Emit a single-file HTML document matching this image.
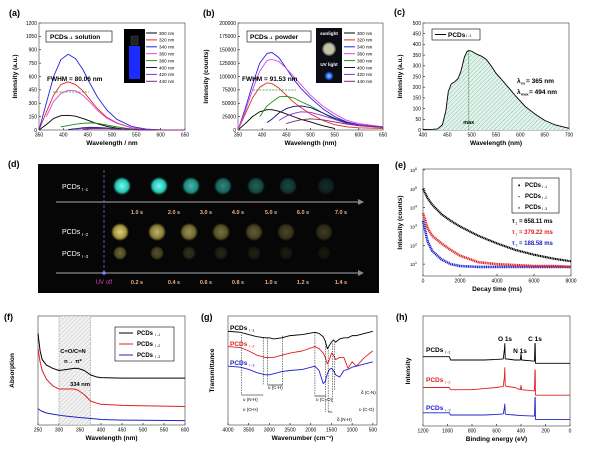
<!DOCTYPE html>
<html><head><meta charset="utf-8"><style>
html,body{margin:0;padding:0;background:#fff}
svg{display:block;font-family:"Liberation Sans",sans-serif}
</style></head><body>
<svg id="fig" width="600" height="450" viewBox="0 0 600 450" xmlns="http://www.w3.org/2000/svg">
<defs>
<pattern id="hatchG" width="3" height="3" patternUnits="userSpaceOnUse" patternTransform="rotate(45)"><rect width="3" height="3" fill="#e4f3ee"/><line x1="0" y1="0" x2="0" y2="3" stroke="#6db59a" stroke-width="0.8"/></pattern>
<pattern id="hatchK" width="3" height="3" patternUnits="userSpaceOnUse" patternTransform="rotate(45)"><rect width="3" height="3" fill="#f2f2f2"/><line x1="0" y1="0" x2="0" y2="3" stroke="#aaa" stroke-width="0.6"/></pattern>
<radialGradient id="gCy"><stop offset="0" stop-color="#7ff5ea"/><stop offset="0.7" stop-color="#20c8b8"/><stop offset="1" stop-color="#20c8b8" stop-opacity="0"/></radialGradient>
<radialGradient id="gYe"><stop offset="0" stop-color="#e8e08a"/><stop offset="0.7" stop-color="#a89a40"/><stop offset="1" stop-color="#a89a40" stop-opacity="0"/></radialGradient>
<radialGradient id="gBl"><stop offset="0" stop-color="#9fd0ff"/><stop offset="0.6" stop-color="#2060f0"/><stop offset="1" stop-color="#102050" stop-opacity="0"/></radialGradient>
</defs>
</svg>
<script>
// ---- data ----
const aWl=[350,365,380,395,410,425,440,455,470,490,510,540,570,600,650];
const a300=[0,60,130,160,165,155,130,100,70,40,20,5,0,0,0];
const a320=[0,200,390,510,540,510,440,340,240,140,80,25,5,0,0];
const a340=[0,300,600,790,850,800,680,520,370,220,120,40,10,0,0];
const a360=[null,150,320,410,445,440,390,310,220,130,75,25,5,0,0];
const a380=[null,null,null,35,50,65,75,80,75,55,35,12,3,0,0];
const a400=[null,null,null,null,5,15,25,30,28,22,15,6,2,0,0];
const a420=[null,null,null,null,null,10,18,22,22,18,12,5,2,0,0];
const a440=[null,null,null,null,null,null,8,14,16,15,10,5,2,0,0];
const bWl=[350,365,380,395,410,420,435,450,465,480,500,525,550,575,600,650];
const b300=[0,12000,25000,34000,38000,38000,35000,30000,25000,20000,15000,8000,3000,null,null,null];
const b320=[0,30000,60000,80000,88000,87000,78000,65000,52000,42000,30000,18000,10000,6000,4000,3000];
const b340=[0,40000,85000,125000,143000,145000,135000,115000,95000,78000,60000,40000,25000,15000,10000,5000];
const b360=[0,35000,75000,110000,130000,132000,128000,115000,100000,85000,65000,45000,30000,18000,12000,6000];
const b380=[null,null,null,25000,45000,52000,62000,63000,60000,53000,45000,32000,20000,12000,8000,5000];
const b400=[null,null,null,null,14000,20000,32000,40000,44000,45000,42000,32000,22000,14000,9000,5000];
const b420=[null,null,null,null,null,null,18000,26000,31000,34000,33000,27000,20000,13000,9000,6000];
const b440=[null,null,null,null,null,null,null,12000,16000,19000,21000,19000,15000,11000,8000,5000];
const exLabels=["300 nm","320 nm","340 nm","360 nm","380 nm","400 nm","420 nm","440 nm"];
const exColors=["#000","#e02828","#2323e0","#e040e0","#1e8c1e","#10106a","#8a2be2","#7a2a7a"];
const cWl=[400,420,430,440,447,452,458,465,472,478,485,490,494,500,510,520,530,540,550,560,575,590,610,630,650,670,700];
const cI=[2,3,5,25,90,180,215,225,240,275,340,365,372,368,355,345,330,300,265,240,200,160,110,75,45,25,8];
const eT=[0,250,500,1000,1500,2000,3000,4000,5000,6000,7000,8000];
const eLog1=[5.0,4.5,4.15,3.65,3.3,3.0,2.5,2.1,1.75,1.5,1.3,1.15];
const eLog2=[3.7,2.9,2.5,2.1,1.75,1.45,1.1,1.0,0.95,0.9,0.9,0.85];
const eLog3=[3.3,2.2,1.7,1.25,1.0,0.9,0.85,0.85,0.85,0.85,0.85,0.85];
const fWl=[250,255,260,270,285,300,320,335,345,360,375,390,400,450,600];
const fBlack=[84,68,60,55,52,50,51,52,52,50,46,44,43.5,43,43];
const fRed=[70,58,50,42,36,33,33,33,32,28,22,20,19,18,17];
const fBlue=[15,13.5,12.5,11,10,9,8,7.5,7,6.5,6,5.5,5,4.5,4];
const gWn=[4000,3700,3500,3300,3100,3000,2900,2700,2500,2200,1900,1800,1700,1650,1600,1550,1500,1450,1400,1300,1200,1100,1000,900,800,700,500];
const gBlack=[86,85,83,81,80,80,79,80,82,83,85,84,81,77,70,73,76,78,76,79,80,80,82,82,83,84,86];
const gRed=[72,71,68,64,62,62,62,64,66,68,72,70,66,62,56,60,66,64,60,62,62,52,58,54,58,62,68];
const gBlue=[54,53,51,48,46,46,47,49,50,51,54,50,38,40,47,51,52,50,46,44,50,51,53,54,55,56,58];
const hBE=[1200,1100,1000,985,975,900,800,700,600,545,535,532,529,520,450,405,400,395,300,290,286,284,282,275,200,100,0];
const hBlack=[63,63,63,63,60,60,60,60,60.5,61,70,75,61,61,60,60,66,60,59,59,75,75,57,57,57,57,57];
const hRed=[35,35,35,35,33,33,33,34,35,36,45,53,37,36,35,33,37,33,32,32,51,51,28,28,28,28,28];
const hBlue=[12,12,12,12,10,10,10,10,10.5,11,17,20,11,10.5,10,9.5,9.5,9.5,9,9,26,26,6,6,6,6,6];

// ---- helpers ----
const NS="http://www.w3.org/2000/svg";
const svg=document.getElementById('fig');
function el(tag,attrs,parent,txt){const e=document.createElementNS(NS,tag);for(const k in attrs)e.setAttribute(k,attrs[k]);if(txt!==undefined)e.textContent=txt;(parent||svg).appendChild(e);return e;}
function txt(x,y,s,size,opts,parent){opts=opts||{};const t=el('text',{x:x,y:y,'font-size':size,'text-anchor':opts.anchor||'start','font-weight':opts.bold?'bold':'normal',fill:opts.fill||'#000'},parent,s);if(opts.rot)t.setAttribute('transform','rotate(-90 '+x+' '+y+')');return t;}
function axes(o){
  const g=el('g',{});
  
  
  const sx=v=>o.x0+(v-o.xmin)/(o.xmax-o.xmin)*(o.x1-o.x0);
  const sy=v=>o.y1-(v-o.ymin)/(o.ymax-o.ymin)*(o.y1-o.y0);
  (o.xticks||[]).forEach(v=>{const x=sx(v);el('line',{x1:x,x2:x,y1:o.y1,y2:o.y1-2,stroke:'#000','stroke-width':0.6},g);const t=txt(x,o.y1+6.5,String(v),5,{anchor:'middle'},g);});
  (o.yticks||[]).forEach((v,i)=>{const y=sy(v);el('line',{x1:o.x0,x2:o.x0+2,y1:y,y2:y,stroke:'#000','stroke-width':0.6},g);
    if(o.ylog){const t=txt(o.x0-6,y+2,'10',4.5,{anchor:'end'},g);const sp=el('tspan',{dy:-2,'font-size':3.5},t,String(v));}
    else if(o.ylabels!==false){const t=txt(o.x0-2,y+1.8,String(v),5,{anchor:'end'},g);}});
  el('rect',{x:o.x0,y:o.y0,width:o.x1-o.x0,height:o.y1-o.y0,fill:'none',stroke:'#555','stroke-width':0.7},g);
  const xt=txt((o.x0+o.x1)/2,o.y1+15,o.xtitle,6.5,{anchor:'middle',bold:true},g);
  
  const yt=txt(o.ytx,(o.y0+o.y1)/2,o.ytitle,6.5,{anchor:'middle',bold:true,rot:true},g);
  
  return {sx,sy,g};
}
function line(xs,ys,ax,color,w,name,extra){
  let d='';let pen=false;
  for(let i=0;i<xs.length;i++){if(ys[i]===null){pen=false;continue;}d+=(pen?'L':'M')+ax.sx(xs[i]).toFixed(2)+' '+ax.sy(ys[i]).toFixed(2)+' ';pen=true;}
  const p=el('path',Object.assign({d:d,fill:'none',stroke:color,'stroke-width':w||0.8,'stroke-linejoin':'round'},extra||{}),ax.g);
  
  
  return p;
}
function panelLabel(x,y,s){const t=txt(x,y,s,9,{bold:true});}

// ---- panel a ----
panelLabel(9,16,'(a)');
const A=axes({name:'panel-a-chart',x0:39,x1:185,y0:23,y1:130,xmin:350,xmax:650,ymin:0,ymax:1200,xticks:[350,400,450,500,550,600,650],yticks:[0,150,300,450,600,750,900,1050,1200],xtitle:'Wavelength / nm',ytitle:'Intensity (a.u.)',ytx:17});
[a300,a320,a340,a360,a380,a400,a420,a440].forEach((s,i)=>line(aWl,s,A,exColors[i],0.9,'series-a-'+exLabels[i].replace(' ','')));
function legendEx(x,y,parent){exLabels.forEach((s,i)=>{const g=el('g',{},parent);el('line',{x1:x,x2:x+11,y1:y+i*6.9,y2:y+i*6.9,stroke:exColors[i],'stroke-width':1},g);txt(x+13,y+i*6.9+1.8,s,4.6,{},g);});}
legendEx(146,33,A.g);
let bx=el('rect',{x:46,y:31,width:66,height:11,fill:'#fff',stroke:'#000','stroke-width':0.6},A.g);
txt(50,39,'PCDs',6.5,{bold:true},A.g);txt(67,39,'I -1',3.8,{bold:true},A.g);txt(75,39,'solution',6.5,{bold:true},A.g);
let cuv=el('rect',{x:124,y:29,width:21,height:54,fill:'#000'},A.g);
el('rect',{x:129,y:46,width:11,height:33,fill:'#1a2cff'},A.g);el('rect',{x:131,y:36,width:7,height:9,fill:'#222',stroke:'#446',"stroke-width":0.5},A.g);
txt(47,81,'FWHM = 80.06 nm',6.5,{bold:true},A.g);
el('line',{x1:53,x2:89,y1:92,y2:92,stroke:'#2a9a2a','stroke-width':0.7,'stroke-dasharray':'2 1.2'},A.g);

// ---- panel b ----
panelLabel(203,16,'(b)');
const B=axes({name:'panel-b-chart',x0:238,x1:383,y0:23,y1:130,xmin:350,xmax:650,ymin:0,ymax:200000,xticks:[350,400,450,500,550,600,650],yticks:[0,25000,50000,75000,100000,125000,150000,175000,200000],xtitle:'Wavelength (nm)',ytitle:'Intensity (counts)',ytx:208});
[b300,b320,b340,b360,b380,b400,b420,b440].forEach((s,i)=>line(bWl,s,B,exColors[i],0.9,'series-b-'+exLabels[i].replace(' ','')));
legendEx(344,33,B.g);
bx=el('rect',{x:247,y:31,width:64,height:11,fill:'#fff',stroke:'#000','stroke-width':0.6},B.g);
txt(250,39,'PCDs',6.5,{bold:true},B.g);txt(267,39,'I -1',3.8,{bold:true},B.g);txt(275,39,'powder',6.5,{bold:true},B.g);
let ph=el('rect',{x:316,y:28,width:26,height:55,fill:'#0c0c14'},B.g);
txt(329,35,'sunlight',4.6,{anchor:'middle',fill:'#fff',bold:true},B.g);
el('circle',{cx:329,cy:49,r:6,fill:'#c8c4a0',stroke:'#777','stroke-width':1.5},B.g);
txt(329,66,'UV light',4.6,{anchor:'middle',fill:'#fff',bold:true},B.g);
el('circle',{cx:329,cy:76,r:5,fill:'url(#gBl)'},B.g);
txt(242,81,'FWHM = 91.53 nm',6.5,{bold:true},B.g);
el('line',{x1:253,x2:296,y1:90,y2:90,stroke:'#2a9a2a','stroke-width':0.7,'stroke-dasharray':'2 1.2'},B.g);

// ---- panel c ----
panelLabel(394,15,'(c)');
const C=axes({name:'panel-c-chart',x0:423,x1:569,y0:23,y1:130,xmin:400,xmax:700,ymin:0,ymax:500,xticks:[400,450,500,550,600,650,700],yticks:[0,50,100,150,200,250,300,350,400,450,500],xtitle:'Wavelength (nm)',ytitle:'Intensity (a.u.)',ytx:402});
(function(){let d='M'+C.sx(cWl[0])+' '+C.sy(0)+' ';cWl.forEach((w,i)=>{d+='L'+C.sx(w).toFixed(2)+' '+C.sy(cI[i]).toFixed(2)+' ';});d+='L'+C.sx(cWl[cWl.length-1])+' '+C.sy(0)+' Z';const p=el('path',{d:d,fill:'url(#hatchG)',stroke:'none'},C.g);})();
line(cWl,cI,C,'#000',0.9,'emission-curve');
el('line',{x1:C.sx(494),x2:C.sx(494),y1:C.sy(372),y2:C.y1||130,stroke:'#2a8a2a','stroke-width':0.7,'stroke-dasharray':'2 1'},C.g);
txt(C.sx(494),124,'max',5.5,{anchor:'middle',bold:true},C.g);
bx=el('rect',{x:432,y:29,width:48,height:11,fill:'#fff',stroke:'#000','stroke-width':0.6},C.g);
el('line',{x1:435,x2:446,y1:34.5,y2:34.5,stroke:'#000','stroke-width':1},C.g);txt(448,37,'PCDs',6.5,{bold:true},C.g);txt(466,37,'I -1',3.8,{},C.g);
txt(517,83,'λ',6.5,{bold:true},C.g);txt(521,84.5,'ex',3.8,{bold:true},C.g);txt(526,83,'= 365 nm',6.5,{bold:true},C.g);
txt(517,94,'λ',6.5,{bold:true},C.g);txt(521,95.5,'max',3.8,{bold:true},C.g);txt(529,94,'= 494 nm',6.5,{bold:true},C.g);

// ---- panel d (photo) ----
panelLabel(8,167,'(d)');
const D=el('g',{});
el('rect',{x:38,y:164,width:341,height:129,fill:'#060606'},D);
const dX=[122,159,191,223,256,288,326];
const dTimes1=["1.0 s","2.0 s","3.0 s","4.0 s","5.0 s","6.0 s","7.0 s"];
const dTimes2=["0.2 s","0.4 s","0.6 s","0.8 s","1.0 s","1.2 s","1.4 s"];
const dOp1=[1,1,0.7,0.5,0.35,0.25,0.15];
const dOp2=[0.95,0.8,0.65,0.5,0.4,0.3,0.25];
const dOp3=[0.45,0.35,0.2,0.15,0.12,0.1,0.08];
dX.forEach((x,i)=>{
  let c=el('circle',{cx:x,cy:186,r:9,fill:'url(#gCy)',opacity:dOp1[i]},D);
  c=el('circle',{cx:x-2,cy:232,r:9,fill:'url(#gYe)',opacity:dOp2[i]},D);
  c=el('circle',{cx:x-2,cy:253,r:7,fill:'url(#gYe)',opacity:dOp3[i]},D);
  txt(x+15,214,dTimes1[i],5.5,{anchor:'middle',fill:'#f0b080',bold:true},D);
  txt(x+15,284,dTimes2[i],5.5,{anchor:'middle',fill:'#f0b080',bold:true},D);
});
[202,273].forEach(y=>{el('line',{x1:56,x2:358,y1:y,y2:y,stroke:'#8a8a8a','stroke-width':1.2},D);el('path',{d:'M358 '+(y-3)+' L364 '+y+' L358 '+(y+3)+' Z',fill:'#8a8a8a'},D);});
el('line',{x1:104,x2:104,y1:170,y2:273,stroke:'#6a6ad0','stroke-width':0.8,'stroke-dasharray':'3 2'},D);
el('circle',{cx:104,cy:273,r:1.8,fill:'#8080ff'},D);
txt(104,284,'UV off',6,{anchor:'middle',fill:'#d040c0'},D);
[[189,'PCDs','I -1'],[234,'PCDs','I -2'],[256,'PCDs','I -3']].forEach(r=>{txt(62,r[0],r[1],7,{fill:'#fff'},D);txt(82,r[0]+2,r[2],4.2,{fill:'#fff'},D);});

// ---- panel e ----
panelLabel(395,168,'(e)');
const E=axes({name:'panel-e-chart',x0:423,x1:571,y0:169,y1:276,xmin:0,xmax:8000,ymin:0.37,ymax:6.05,xticks:[0,2000,4000,6000,8000],yticks:[1,2,3,4,5,6],ylog:true,xtitle:'Decay time (ms)',ytitle:'Intensity (counts)',ytx:402});
line(eT,eLog3,E,'#2020d0',2.6,'decay-series-3',{'stroke-dasharray':'1.2 0.6'});
line(eT,eLog2,E,'#e02020',2.6,'decay-series-2',{'stroke-dasharray':'1.2 0.6'});
line(eT,eLog1,E,'#000',2.2,'decay-series-1',{'stroke-dasharray':'1.2 0.5'});
bx=el('rect',{x:512,y:178,width:47,height:35,fill:'#fff',stroke:'#000','stroke-width':0.6},E.g);
[['#000','I -1','■'],['#e02020','I -2','●'],['#2020d0','I -3','▲']].forEach((r,i)=>{const g=el('g',{},E.g);txt(519,186.5+i*11,r[2],3.5,{anchor:'middle',fill:r[0]},g);txt(525,187+i*11,'PCDs',6,{bold:true},g);txt(542,188+i*11,r[1],3.5,{},g);});
[['#000','1','= 658.11 ms'],['#e02020','2','= 379.22 ms'],['#2020d0','3','= 188.58 ms']].forEach((r,i)=>{txt(512,223+i*11,'τ',6,{bold:true,fill:r[0]},E.g);txt(515.5,224.5+i*11,r[1],3.5,{fill:r[0]},E.g);txt(519,223+i*11,r[2],6,{bold:true,fill:r[0]},E.g);});

// ---- panel f ----
panelLabel(4,320,'(f)');
const F=axes({name:'panel-f-chart',x0:38,x1:185,y0:316,y1:425,xmin:250,xmax:600,ymin:0,ymax:100,xticks:[250,300,350,400,450,500,550,600],yticks:[],xtitle:'Wavelength (nm)',ytitle:'Absorption',ytx:14});
let hb=el('rect',{x:F.sx(300),y:316,width:F.sx(375)-F.sx(300),height:109,fill:'url(#hatchK)',stroke:'#777','stroke-width':0.5,'stroke-dasharray':'1.5 1'},F.g);
line(fWl,fBlack,F,'#000',1,'absorption-series-1');
line(fWl,fRed,F,'#e02020',1,'absorption-series-2');
line(fWl,fBlue,F,'#2020d0',1,'absorption-series-3');
txt(73,353,'C=O/C=N',5.8,{anchor:'middle',bold:true},F.g);txt(73,363,'n→ π*',5.8,{anchor:'middle',bold:true},F.g);
txt(80,386,'334 nm',5.8,{anchor:'middle',bold:true},F.g);
bx=el('rect',{x:115,y:327,width:59,height:34,fill:'#fff',stroke:'#000','stroke-width':0.6},F.g);
[['#000','I -1'],['#e02020','I -2'],['#2020d0','I -3']].forEach((r,i)=>{const g=el('g',{},F.g);el('line',{x1:119,x2:133,y1:333+i*11,y2:333+i*11,stroke:r[0],'stroke-width':1},g);txt(137,335+i*11,'PCDs',6,{bold:true},g);txt(155,336+i*11,r[1],3.5,{},g);});

// ---- panel g ----
panelLabel(201,320,'(g)');
const G=axes({name:'panel-g-chart',x0:228,x1:377,y0:316,y1:425,xmin:4000,xmax:400,ymin:0,ymax:100,xticks:[4000,3500,3000,2500,2000,1500,1000,500],yticks:[],xtitle:'Wavenumber (cm⁻¹)',ytitle:'Transmittance',ytx:214});
line(gWn,gBlack,G,'#000',0.9,'ftir-series-1');
line(gWn,gRed,G,'#e02020',0.9,'ftir-series-2');
line(gWn,gBlue,G,'#2020d0',0.9,'ftir-series-3');
[[3680,83,395],[3150,80,385],[3050,80,385],[2680,82,385],[1900,85,396],[1640,77,412],[1580,71,412],[1480,75,403],[1420,77,390]].forEach(r=>{el('line',{x1:G.sx(r[0]),x2:G.sx(r[0]),y1:G.sy(r[1]),y2:r[2],stroke:'#000','stroke-width':0.5,'stroke-dasharray':'1.5 1'},G.g);});
el('path',{d:'M'+G.sx(3680)+' 395 H'+G.sx(3150),stroke:'#000','stroke-width':0.6,fill:'none'},G.g);
el('path',{d:'M'+G.sx(3050)+' 385 H'+G.sx(2680),stroke:'#000','stroke-width':0.6,fill:'none'},G.g);
el('path',{d:'M'+G.sx(1900)+' 396 H'+G.sx(1640),stroke:'#000','stroke-width':0.6,fill:'none'},G.g);
el('path',{d:'M'+G.sx(1580)+' 412 H'+G.sx(1480),stroke:'#000','stroke-width':0.6,fill:'none'},G.g);
txt(243,401,'υ (N-H)',4.5,{},G.g);txt(243,411,'υ (O-H)',4.5,{},G.g);
txt(268,389,'υ (C-H)',4.5,{},G.g);txt(316,401,'υ (C=O)',4.5,{},G.g);
txt(337,421,'δ (N-H)',4.5,{},G.g);txt(359,411,'υ (C-O)',4.5,{},G.g);txt(361,394,'δ (C-N)',4.5,{},G.g);
[[330,'#000','I -1'],[346,'#e02020','I -2'],[365,'#2020d0','I -3']].forEach(r=>{const g=el('g',{},G.g);txt(230,r[0],'PCDs',6.5,{bold:true,fill:r[1]},g);txt(249,r[0]+1.5,r[2],3.8,{fill:r[1]},g);});

// ---- panel h ----
panelLabel(396,320,'(h)');
const H=axes({name:'panel-h-chart',x0:423,x1:570,y0:316,y1:426,xmin:1200,xmax:0,ymin:0,ymax:100,xticks:[1200,1000,800,600,400,200,0],yticks:[],xtitle:'Binding energy (eV)',ytitle:'Intensity',ytx:410});
line(hBE,hBlack,H,'#000',0.9,'xps-series-1');
line(hBE,hRed,H,'#e02020',0.9,'xps-series-2');
line(hBE,hBlue,H,'#2020d0',0.9,'xps-series-3');
txt(505,341,'O 1s',6.5,{anchor:'middle',bold:true},H.g);txt(520,353,'N 1s',6.5,{anchor:'middle',bold:true},H.g);txt(535,341,'C 1s',6.5,{anchor:'middle',bold:true},H.g);
[[352,'#000','I -1'],[382,'#e02020','I -2'],[410,'#2020d0','I -3']].forEach(r=>{const g=el('g',{},H.g);txt(426,r[0],'PCDs',6.5,{bold:true,fill:r[1]},g);txt(445,r[0]+1.5,r[2],3.8,{fill:r[1]},g);});
</script>
</body></html>
